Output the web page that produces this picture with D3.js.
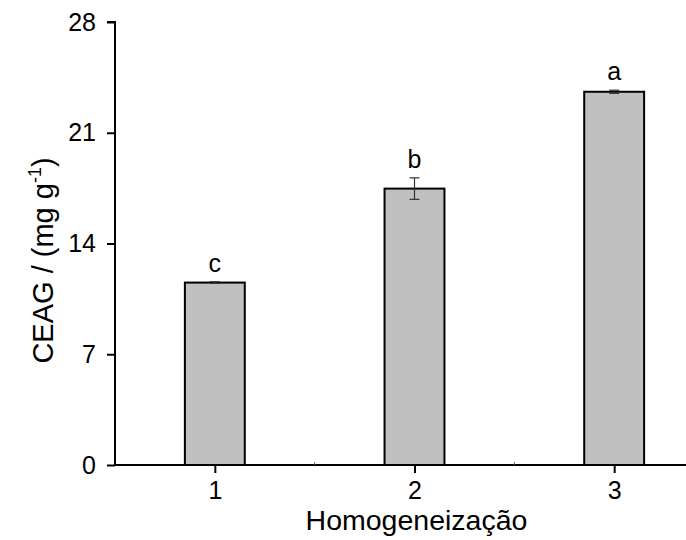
<!DOCTYPE html>
<html>
<head>
<meta charset="utf-8">
<script src="https://cdn.jsdelivr.net/npm/d3@7"></script>
<style>
  body { margin: 0; background: #fff; }
  text { font-family: "Liberation Sans", Arial, sans-serif; }
</style>
</head>
<body>
<script>
const svgW = 686;
const svgH = 540;

// data
const categories = [1, 2, 3];
const values = [11.53, 17.47, 23.59];
const errors = [0.05, 0.68, 0.1];
const letters = ['c', 'b', 'a'];
const yTicks = [0, 7, 14, 21, 28];

const svg = d3.select('body')
              .append('svg')
              .attr('width', svgW)
              .attr('height', svgH);

// scales
const xScale = d3.scaleLinear()
                  .domain([0.5, 3.5])
                  .range([115, 714]);
const yScale = d3.scaleLinear()
                  .domain([0, 28])
                  .range([465, 22]);

const barW = xScale(1.3) - xScale(1);

// bars
svg.selectAll('.bar')
   .data(categories)
   .enter()
   .append('rect')
   .attr('class', 'bar')
   .attr('x', d => xScale(d) - barW / 2)
   .attr('y', (d, i) => yScale(values[i]))
   .attr('width', barW)
   .attr('height', (d, i) => yScale(0) - yScale(values[i]))
   .attr('fill', '#c0c0c0')
   .attr('stroke', '#000')
   .attr('stroke-width', 2);

// error bars
const eg = svg.selectAll('.err')
              .data(categories)
              .enter()
              .append('g')
              .attr('class', 'err')
              .attr('stroke', '#333')
              .attr('stroke-width', 1.2);
eg.append('line')
  .attr('x1', d => xScale(d)).attr('x2', d => xScale(d))
  .attr('y1', (d, i) => yScale(values[i] + errors[i]))
  .attr('y2', (d, i) => yScale(values[i] - errors[i]));
eg.selectAll('.cap')
  .data((d, i) => [[d, values[i] + errors[i]], [d, values[i] - errors[i]]])
  .enter()
  .append('line')
  .attr('x1', d => xScale(d[0]) - 5).attr('x2', d => xScale(d[0]) + 5)
  .attr('y1', d => yScale(d[1])).attr('y2', d => yScale(d[1]));

// letters
svg.selectAll('.lbl')
   .data(categories)
   .enter()
   .append('text')
   .attr('x', d => xScale(d))
   .attr('y', (d, i) => yScale(values[i] + errors[i]) - 10)
   .attr('text-anchor', 'middle')
   .attr('font-size', 25)
   .text((d, i) => letters[i]);

// x axis
const xAxis = d3.axisBottom(xScale)
                .tickValues(categories)
                .tickFormat(d3.format('d'))
                .tickSize(8)
                .tickPadding(8);
const gx = svg.append('g')
   .attr('transform', `translate(0, ${yScale(0)})`)
   .call(xAxis);
gx.select('.domain').attr('stroke-width', 2).attr('d', `M${xScale(0.5)},0H${xScale(3.5)}`);
gx.selectAll('.tick line').attr('stroke-width', 2);
gx.selectAll('.tick text').attr('font-size', 25).attr('font-family', '"Liberation Sans", Arial, sans-serif');
// minor ticks
gx.selectAll('.minor')
  .data([1.5, 2.5])
  .enter()
  .append('line')
  .attr('x1', d => xScale(d)).attr('x2', d => xScale(d))
  .attr('y1', 0).attr('y2', -3)
  .attr('stroke', '#666')
  .attr('stroke-width', 1);

// y axis
const yAxis = d3.axisLeft(yScale)
                .tickValues(yTicks)
                .tickSize(8)
                .tickPadding(11);
const gy = svg.append('g')
   .attr('transform', `translate(${xScale(0.5)}, 0)`)
   .call(yAxis);
gy.select('.domain').attr('stroke-width', 2).attr('d', `M0,${yScale(0)}V${yScale(28)}H-8`);
gy.selectAll('.tick line').attr('stroke-width', 2);
gy.selectAll('.tick text').attr('font-size', 25).attr('font-family', '"Liberation Sans", Arial, sans-serif');

// axis titles
svg.append('text')
   .attr('x', xScale(2) + 2)
   .attr('y', 530)
   .attr('text-anchor', 'middle')
   .attr('font-size', 28.5)
   .text('Homogeneização');

const yt = svg.append('text')
   .attr('transform', `translate(53, ${(yScale(0) + yScale(28)) / 2 + 17}) rotate(-90)`)
   .attr('text-anchor', 'middle')
   .attr('font-size', 29);
yt.append('tspan').text('CEAG / (mg g');
yt.append('tspan').attr('font-size', 18).attr('dy', -12).text('-1');
yt.append('tspan').attr('dy', 12).text(')');
</script>
</body>
</html>
